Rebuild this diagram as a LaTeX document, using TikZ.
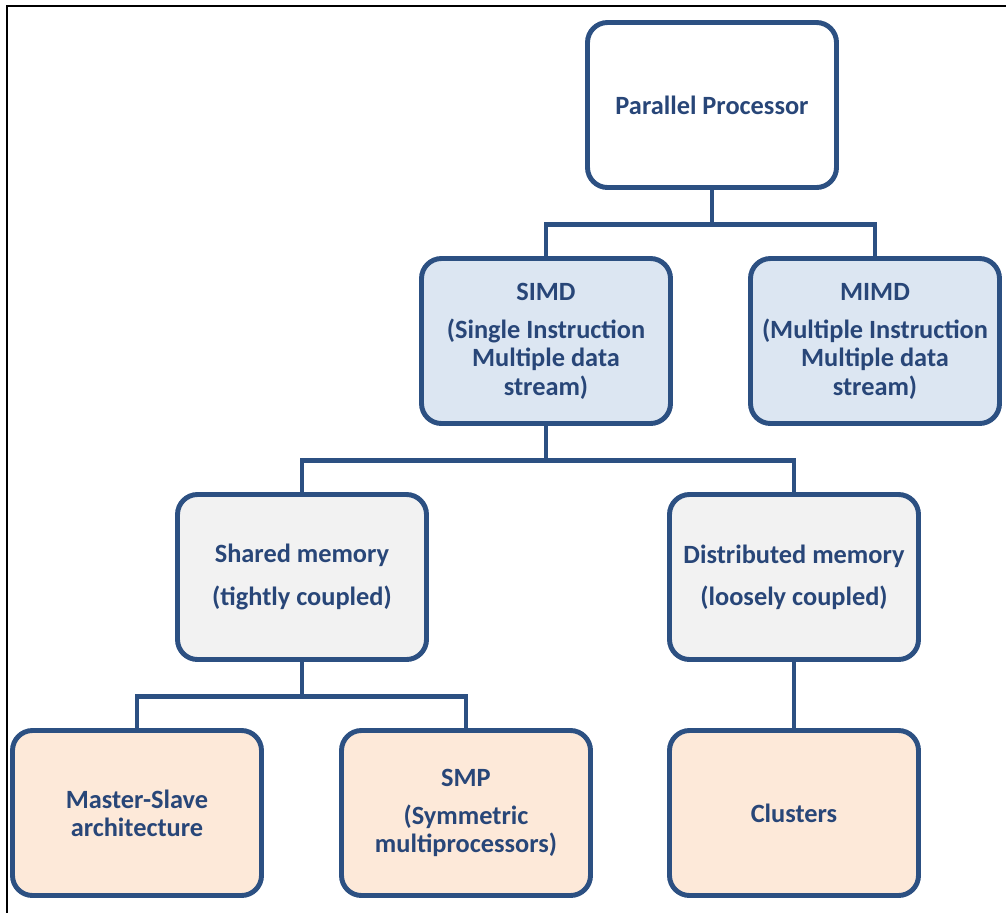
\documentclass[tikz,border=0pt]{standalone}
\usepackage{fontspec}
\setmainfont{Carlito}
\usepackage{tikz,xcolor}
\usetikzlibrary{positioning}

\begin{document}
\begin{tikzpicture}[node distance=4.72cm]

\definecolor{linecolor}{RGB}{44,80,130}
\definecolor{textcolor}{RGB}{40,70,120}
\definecolor{bluefill}{RGB}{220,230,242}
\definecolor{greyfill}{RGB}{242,242,242}
\definecolor{peachfill}{RGB}{253,233,217}

\tikzstyle{box} = [rectangle, rounded corners=0.4cm, draw=linecolor, line width=2.8pt, minimum width=4.98cm, minimum height=3.3cm, align=center, text=textcolor, font=\fontsize{15}{16}\selectfont\bfseries]
\tikzstyle{rootbox} = [box, fill=white]
\tikzstyle{typebox} = [box, fill=bluefill]
\tikzstyle{memorybox} = [box, fill=greyfill]
\tikzstyle{archbox} = [box, fill=peachfill]
\tikzstyle{conn} = [line width=2.8pt, draw=linecolor]

\useasboundingbox (0,0) rectangle (20.12,-18.26);
\draw[black, line width=1.2pt] (20.12,-0.12) -- (0.14,-0.12) -- (0.14,-18.26);

\node[rootbox] (PP) at (14.24,-2.10) {Parallel Processor};

\node[typebox, below of=PP, xshift=-3.32cm] (SIMD) {SIMD\\[6pt](Single Instruction\\Multiple data\\stream)};
\node[typebox, right of=SIMD, node distance=6.58cm] (MIMD) {MIMD\\[6pt](Multiple Instruction\\Multiple data\\stream)};

\node[memorybox, below of=SIMD, xshift=-4.88cm] (SM) {Shared memory\\[8pt](tightly coupled)};
\node[memorybox, right of=SM, node distance=9.84cm] (DM) {Distributed memory\\[8pt](loosely coupled)};

\node[archbox, below of=SM, xshift=-3.30cm] (MS) {Master-Slave\\architecture};
\node[archbox, right of=MS, node distance=6.58cm] (SMP) {SMP\\[6pt](Symmetric\\multiprocessors)};
\node[archbox, below of=DM] (CL) {Clusters};

\draw[conn] (PP.south) -- ++(0,-0.69) -| (SIMD.north);
\draw[conn] (PP.south) -- ++(0,-0.69) -| (MIMD.north);

\draw[conn] (SIMD.south) -- ++(0,-0.69) -| (SM.north);
\draw[conn] (SIMD.south) -- ++(0,-0.69) -| (DM.north);

\draw[conn] (SM.south) -- ++(0,-0.69) -| (MS.north);
\draw[conn] (SM.south) -- ++(0,-0.69) -| (SMP.north);
\draw[conn] (DM) -- (CL);

\end{tikzpicture}
\end{document}
